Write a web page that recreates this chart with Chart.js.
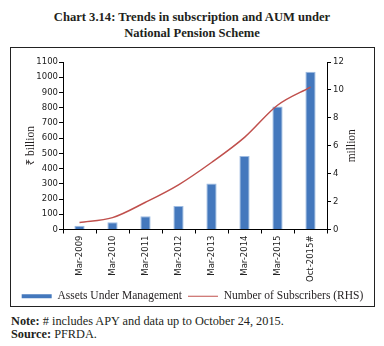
<!DOCTYPE html>
<html>
<head>
<meta charset="utf-8">
<script src="https://cdn.jsdelivr.net/npm/chart.js@4/dist/chart.umd.min.js"></script>
<style>
  body { margin: 0; background: #fff; width: 384px; height: 346px; position: relative; overflow: hidden; }
  .title { position: absolute; left: 0; top: 9px; width: 384px; text-align: center;
           font: bold 12.6px "Liberation Serif", serif; line-height: 16px; color: #231f20; }
  .frame { position: absolute; left: 10px; top: 47px; width: 363px; height: 258px; border: 1px solid #222; }
  .frame canvas { position: absolute; left: 0; top: 0; }
  .note { position: absolute; left: 11px; top: 315px; font: 12.3px "Liberation Serif", serif;
          line-height: 13px; color: #231f20; }
</style>
</head>
<body>
<div class="title">Chart 3.14: Trends in subscription and AUM under<br>National Pension Scheme</div>
<div class="frame"><canvas id="chart" width="363" height="264"></canvas></div>
<div class="note"><b>Note:</b> # includes APY and data up to October 24, 2015.<br><b>Source:</b> PFRDA.</div>
<script>
const categories = ['Mar-2009', 'Mar-2010', 'Mar-2011', 'Mar-2012', 'Mar-2013', 'Mar-2014', 'Mar-2015', 'Oct-2015#'];
const aum = [25, 47, 87, 155, 302, 483, 808, 1036];          // ₹ billion
const subscribers = [0.5, 0.85, 1.95, 3.2, 4.8, 6.6, 8.9, 10.2]; // million (RHS)

const tickFont = { family: 'DejaVu Sans', size: 8.5 };
const serif = 'Liberation Serif';

// axis titles: both read bottom-to-top
const axisTitles = {
  id: 'axisTitles',
  afterDraw(chart) {
    const { ctx, chartArea } = chart;
    const midY = (chartArea.top + chartArea.bottom) / 2;
    ctx.save();
    ctx.fillStyle = '#231f20';
    ctx.font = '11.5px "' + serif + '", "Noto Sans", serif';
    ctx.textAlign = 'center';
    ctx.textBaseline = 'middle';
    [['\u20B9 billion', 20], ['million', 341]].forEach(([t, x]) => {
      ctx.save();
      ctx.translate(x, midY);
      ctx.rotate(-Math.PI / 2);
      ctx.fillText(t, 0, 0);
      ctx.restore();
    });
    ctx.restore();
  }
};

const axisStyle = {
  grid: { drawOnChartArea: false, drawTicks: true, tickLength: 4, color: '#000' },
  border: { display: true, color: '#000', width: 1 },
};

new Chart(document.getElementById('chart'), {
  type: 'bar',
  data: {
    labels: categories,
    datasets: [
      {
        type: 'line',
        label: 'Number of Subscribers (RHS)',
        data: subscribers,
        yAxisID: 'y1',
        borderColor: '#c0504d',
        backgroundColor: '#c0504d',
        borderWidth: 1.5,
        pointRadius: 0,
        cubicInterpolationMode: 'monotone',
        order: 0,
      },
      {
        label: 'Assets Under Management',
        data: aum,
        yAxisID: 'y',
        backgroundColor: '#4478bd',
        borderColor: '#9dbbe2',
        borderWidth: 1,
        categoryPercentage: 1,
        barPercentage: 0.31,
        order: 1,
      },
    ],
  },
  options: {
    responsive: false,
    animation: false,
    layout: { padding: { top: 14, left: 0, right: 0, bottom: 0 } },
    plugins: {
      tooltip: { enabled: false },
      legend: {
        position: 'bottom',
        reverse: true,
        maxWidth: 363,
        labels: {
          usePointStyle: true,
          pointStyleWidth: 30,
          boxHeight: 4,
          padding: 6,
          color: '#231f20',
          font: { family: serif, size: 11.5 },
          generateLabels(chart) {
            const items = Chart.defaults.plugins.legend.labels.generateLabels(chart);
            items.forEach(it => {
              const ds = chart.data.datasets[it.datasetIndex];
              it.pointStyle = ds.type === 'line' ? 'line' : 'rect';
              it.lineWidth = ds.type === 'line' ? 1.2 : 0;
              it.strokeStyle = ds.type === 'line' ? '#c0504d' : '#4478bd';
              it.fillStyle = ds.type === 'line' ? '#c0504d' : '#4478bd';
            });
            return items;
          },
        },
      },
    },
    scales: {
      x: {
        ...axisStyle,
        ticks: { font: tickFont, color: '#222', minRotation: 90, maxRotation: 90, padding: 2 },
        afterFit(scale) { scale.height = 55; },
      },
      y: {
        ...axisStyle,
        position: 'left',
        min: 0, max: 1100,
        ticks: { stepSize: 100, autoSkip: false, font: tickFont, color: '#222', padding: 1,
                 callback: v => String(v) },
        afterFit(scale) { scale.width = 52; },
      },
      y1: {
        ...axisStyle,
        position: 'right',
        min: 0, max: 12,
        ticks: { stepSize: 2, autoSkip: false, font: tickFont, color: '#222', padding: 2,
                 callback: v => String(v) },
        afterFit(scale) { scale.width = 47; },
      },
    },
  },
  plugins: [axisTitles],
});
</script>
</body>
</html>
